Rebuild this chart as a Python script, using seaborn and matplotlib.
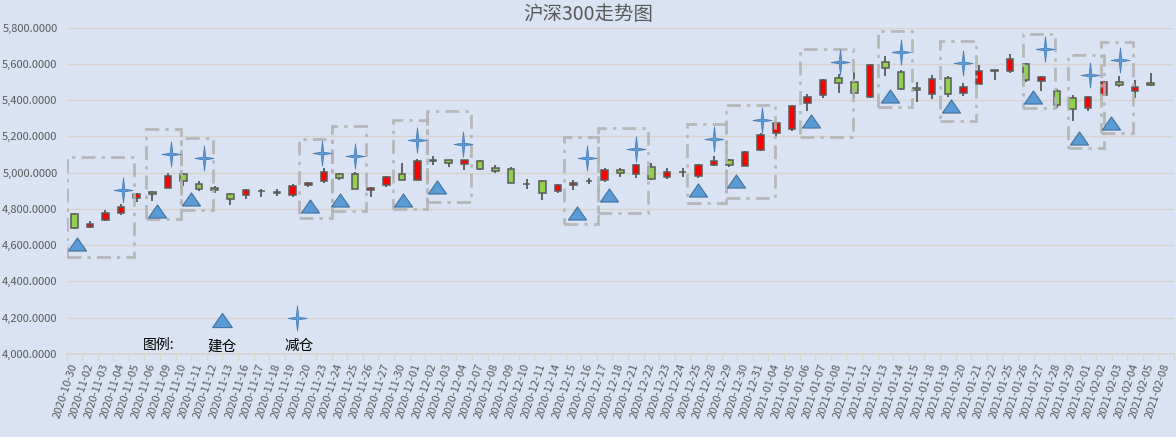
import numpy as np
import pandas as pd
import matplotlib
matplotlib.use('Agg')
import matplotlib.pyplot as plt
import seaborn as sns
from matplotlib.markers import MarkerStyle
from matplotlib.path import Path
from matplotlib.patches import Rectangle
from matplotlib.ticker import FuncFormatter, FixedLocator

dates = ['2020-10-30', '2020-11-02', '2020-11-03', '2020-11-04', '2020-11-05', '2020-11-06',
         '2020-11-09', '2020-11-10', '2020-11-11', '2020-11-12', '2020-11-13', '2020-11-16',
         '2020-11-17', '2020-11-18', '2020-11-19', '2020-11-20', '2020-11-23', '2020-11-24',
         '2020-11-25', '2020-11-26', '2020-11-27', '2020-11-30', '2020-12-01', '2020-12-02',
         '2020-12-03', '2020-12-04', '2020-12-07', '2020-12-08', '2020-12-09', '2020-12-10',
         '2020-12-11', '2020-12-14', '2020-12-15', '2020-12-16', '2020-12-17', '2020-12-18',
         '2020-12-21', '2020-12-22', '2020-12-23', '2020-12-24', '2020-12-25', '2020-12-28',
         '2020-12-29', '2020-12-30', '2020-12-31', '2021-01-04', '2021-01-05', '2021-01-06',
         '2021-01-07', '2021-01-08', '2021-01-11', '2021-01-12', '2021-01-13', '2021-01-14',
         '2021-01-15', '2021-01-18', '2021-01-19', '2021-01-20', '2021-01-21', '2021-01-22',
         '2021-01-25', '2021-01-26', '2021-01-27', '2021-01-28', '2021-01-29', '2021-02-01',
         '2021-02-02', '2021-02-03', '2021-02-04', '2021-02-05', '2021-02-08']

opens = [4774, 4700, 4741, 4779, 4862, 4895, 4917, 4994, 4939, 4917, 4884, 4879, 4897, 4891,
         4879, 4930, 4954, 4994, 4994, 4906, 4930, 4994, 4961, 5066, 5068, 5050, 5066, 5028,
         5022, 4936, 4956, 4899, 4932, 4954, 4959, 5017, 4994, 5031, 4976, 5004, 4982, 5044,
         5072, 5039, 5122, 5218, 5243, 5383, 5426, 5522, 5500, 5415, 5610, 5555, 5466, 5435,
         5522, 5439, 5490, 5564, 5559, 5599, 5505, 5452, 5411, 5356, 5428, 5500, 5450, 5494,
         np.nan]
closes = [4693, 4719, 4779, 4812, 4884, 4884, 4982, 4954, 4908, 4906, 4857, 4904, 4899, 4890,
          4926, 4945, 5006, 4972, 4912, 4917, 4978, 4961, 5066, 5068, 5055, 5068, 5020, 5009,
          4945, 4935, 4887, 4934, 4945, 4956, 5017, 4998, 5044, 4965, 5006, 5006, 5044, 5066,
          5044, 5116, 5210, 5271, 5369, 5417, 5511, 5494, 5439, 5596, 5577, 5463, 5454, 5516,
          5435, 5470, 5559, 5562, 5627, 5509, 5527, 5372, 5350, 5417, 5500, 5485, 5472, 5483,
          np.nan]
highs = [4778, 4735, 4792, 4825, 4886, 4898, 5000, 5000, 4954, 4926, 4886, 4908, 4912, 4912,
         4936, 4948, 5028, 5000, 5004, 4923, 4982, 5055, 5074, 5089, 5072, 5072, 5067, 5044,
         5033, 4963, 4957, 4939, 4958, 4969, 5024, 5028, 5050, 5055, 5026, 5026, 5050, 5089,
         5074, 5120, 5218, 5286, 5372, 5435, 5514, 5544, 5555, 5598, 5642, 5564, 5500, 5538,
         5531, 5494, 5592, 5568, 5655, 5603, 5535, 5461, 5428, 5420, 5503, 5535, 5511, 5550,
         np.nan]
lows = [4688, 4695, 4735, 4768, 4840, 4844, 4915, 4926, 4899, 4890, 4822, 4853, 4868, 4871,
        4868, 4921, 4941, 4960, 4910, 4868, 4923, 4958, 4959, 5044, 5033, 5017, 5015, 5000,
        4943, 4911, 4849, 4887, 4904, 4935, 4948, 4978, 4970, 4961, 4965, 4978, 4970, 5037,
        5033, 5037, 5120, 5194, 5227, 5339, 5411, 5439, 5413, 5413, 5531, 5454, 5387, 5406,
        5417, 5420, 5488, 5511, 5549, 5501, 5450, 5356, 5282, 5341, 5424, 5472, 5411, 5476,
        np.nan]

# 建仓 (triangles) and 减仓 (stars): category position, price
buy_x = [0.2, 5.3, 7.5, 15.1, 17.05, 21.1, 23.25, 32.2, 34.3, 40.0, 42.4, 47.2, 52.3, 56.2,
         61.45, 64.4, 66.45]
buy_y = [4605, 4789, 4853, 4816, 4847, 4847, 4922, 4779, 4875, 4904, 4954, 5287, 5424, 5369,
         5415, 5190, 5273]
sell_x = [3.1, 6.2, 8.3, 15.9, 18.0, 22.0, 24.9, 32.9, 36.0, 41.0, 44.1, 49.1, 53.0, 57.0,
          62.2, 65.1, 67.05]
sell_y = [4904, 5105, 5083, 5107, 5092, 5181, 5160, 5083, 5129, 5185, 5292, 5610, 5664, 5605,
          5684, 5540, 5623]

# dashed frames around each trade
box_left = [-0.47, 4.6, 6.86, 14.4, 16.55, 20.4, 22.6, 31.4, 33.6, 39.3, 41.8, 46.5, 51.5,
            55.5, 60.8, 63.7, 65.8]
box_right = [3.8, 6.85, 8.87, 16.55, 18.7, 22.6, 25.45, 33.6, 36.75, 41.8, 44.9, 49.9, 53.7,
             57.8, 62.9, 66.0, 67.85]
box_low = [4537, 4743, 4792, 4752, 4789, 4797, 4838, 4718, 4779, 4834, 4862, 5199, 5359, 5286,
           5356, 5134, 5221]
box_high = [5088, 5243, 5193, 5187, 5257, 5292, 5338, 5194, 5244, 5266, 5373, 5682, 5780,
            5725, 5762, 5651, 5721]

sns.set_theme(style='white')
plt.rcParams['font.family'] = ['Noto Sans CJK SC', 'DejaVu Sans']
plt.rcParams['axes.unicode_minus'] = False

bg = '#dae3f3'
txt = '#595959'

df = pd.DataFrame({'date': dates, 'open': opens, 'high': highs, 'low': lows, 'close': closes})
df['pos'] = np.arange(len(df))

fig = plt.figure(figsize=(11.76, 4.37), dpi=100, facecolor=bg)
ax = fig.add_axes([66.5 / 1176, 1 - 354 / 437, (1174 - 66.5) / 1176, (354 - 27.5) / 437])
ax.set_facecolor(bg)

ok = df.dropna()
okup = (ok['close'] >= ok['open']).to_numpy()
ax.vlines(ok['pos'], ok['low'], ok['high'], color='#404040', lw=1.1, zorder=2)
ax.bar(ok['pos'], (ok['close'] - ok['open']).abs().clip(lower=1.2),
       bottom=ok[['open', 'close']].min(axis=1), width=0.42,
       color=np.where(okup, '#ff0000', '#92d050'), edgecolor='#595959', linewidth=1.1, zorder=3)

for x0, x1, y0, y1 in zip(box_left, box_right, box_low, box_high):
    ax.add_patch(Rectangle((x0, y0), x1 - x0, y1 - y0, fill=False, ec='#b3b3b3', lw=2,
                           ls=(0, (5, 2.2, 1.2, 2.2)), alpha=0.9, zorder=4))

tri = MarkerStyle(Path([(-1, -0.72), (1, -0.72), (0, 0.72), (-1, -0.72)], closed=True))
star = MarkerStyle(Path([(0, 1), (0.1, 0.1), (0.75, 0), (0.1, -0.1), (0, -1),
                         (-0.1, -0.1), (-0.75, 0), (-0.1, 0.1), (0, 1)], closed=True))

sns.scatterplot(x=buy_x, y=buy_y, marker=tri, s=170, color='#5b9bd5', edgecolor='#41719c',
                linewidth=0.8, ax=ax, zorder=5)
sns.scatterplot(x=sell_x, y=sell_y, marker=star, s=330, color='#5b9bd5', edgecolor='#4a7fb8',
                linewidth=0.6, ax=ax, zorder=5)

# legend drawn inside the plot
ax.scatter([9.5], [4185], marker=tri, s=200, color='#5b9bd5', edgecolor='#41719c', lw=0.8, zorder=5)
ax.scatter([14.3], [4198], marker=star, s=330, color='#5b9bd5', edgecolor='#4a7fb8', lw=0.6, zorder=5)
ax.text(5.4, 4050, '图例:', ha='center', va='center', fontsize=10, color='black')
ax.text(9.5, 4042, '建仓', ha='center', va='center', fontsize=10.5, color='black')
ax.text(14.4, 4042, '减仓', ha='center', va='center', fontsize=10.5, color='black')

ax.set_xlim(-0.5, len(dates) - 0.5)
ax.set_ylim(4000, 5800)
ax.set_yticks(np.arange(4000, 5801, 200))
ax.yaxis.set_major_formatter(FuncFormatter(lambda v, p: f'{v:,.4f}'))
ax.set_xticks(df['pos'])
ax.set_xticklabels(dates, rotation=72, ha='right', va='center', rotation_mode='anchor')
ax.xaxis.set_minor_locator(FixedLocator(np.arange(-0.5, len(dates), 1)))
ax.tick_params(axis='x', which='major', length=0, pad=7, labelsize=8, labelcolor=txt)
ax.tick_params(axis='x', which='minor', length=4, color='#d8d3cc', width=1, bottom=True)
ax.tick_params(axis='y', length=0, pad=6.5, labelsize=8, labelcolor=txt)
ax.yaxis.grid(True, color='#d8d3cc', lw=1)
ax.xaxis.grid(False)
for s in ['top', 'right', 'left']:
    ax.spines[s].set_visible(False)
ax.spines['bottom'].set_color('#d8d3cc')
ax.set_xlabel('')
ax.set_ylabel('')

fig.text(0.5, 1 - 15 / 437, '沪深300走势图', ha='center', va='center', fontsize=14, color=txt)

fig.savefig('out.png', dpi=100, facecolor=bg)
